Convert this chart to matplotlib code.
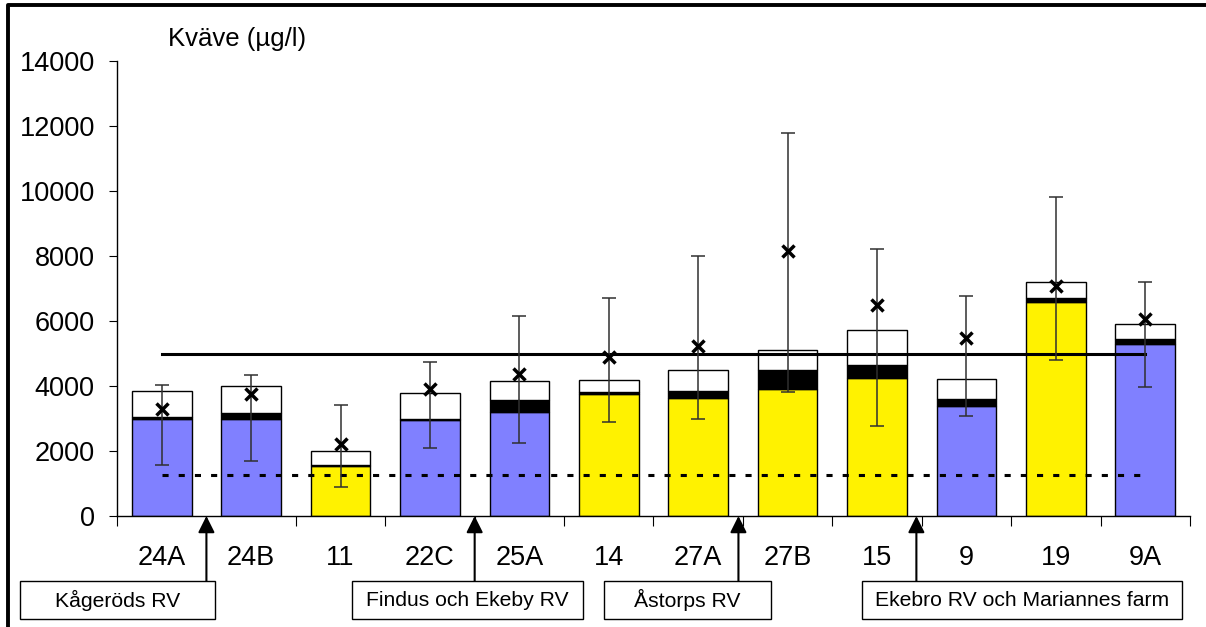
import numpy as np
import matplotlib.pyplot as plt
from matplotlib.patches import Rectangle
from matplotlib.lines import Line2D
import matplotlib.transforms as mtransforms

plt.rcParams['font.family'] = ['Liberation Sans', 'DejaVu Sans']

# data
stations = ['24A', '24B', '11', '22C', '25A', '14', '27A', '27B', '15', '9', '19', '9A']
kind = ['b', 'b', 'y', 'b', 'b', 'y', 'y', 'y', 'y', 'b', 'y', 'b']
low_part = [3000, 3000, 1540, 2940, 3200, 3760, 3630, 3900, 4240, 3395, 6595, 5285]
mid_top = [3050, 3180, 1580, 2985, 3555, 3830, 3840, 4500, 4645, 3585, 6700, 5450]
total = [3850, 4000, 2010, 3770, 4165, 4185, 4500, 5110, 5720, 4225, 7215, 5895]
mean = [3280, 3750, 2225, 3910, 4370, 4880, 5225, 8160, 6500, 5490, 7070, 6060]
err_hi = [4020, 4350, 3415, 4735, 6140, 6720, 8000, 11800, 8220, 6770, 9830, 7215]
err_lo = [1555, 1690, 885, 2095, 2255, 2895, 2980, 3830, 2775, 3070, 4790, 3955]
limit_solid = 5000
limit_dotted = 1250

boxes = ['Kågeröds RV', 'Findus och Ekeby RV', 'Åstorps RV', 'Ekebro RV och Mariannes farm']
arrow_at = [0.5, 3.5, 6.45, 8.44]

W, H = 1206, 627
fig = plt.figure(figsize=(W / 100, H / 100), dpi=100)

def fx(p):
    return p / W

def fy(p):
    return 1 - p / H

ax = fig.add_axes([fx(117), fy(516), fx(1190) - fx(117), fy(61) - fy(516)])

x = np.arange(len(stations))
low_part = np.array(low_part)
mid_top = np.array(mid_top)
total = np.array(total)
mean = np.array(mean)
colors = ['#8080FF' if k == 'b' else '#FFF200' for k in kind]
bw = 0.667

ax.bar(x, low_part, bw, color=colors, edgecolor='black', linewidth=1, zorder=2)
ax.bar(x, mid_top - low_part, bw, bottom=low_part, color='black', edgecolor='black', linewidth=1, zorder=2)
ax.bar(x, total - mid_top, bw, bottom=mid_top, color='white', edgecolor='black', linewidth=1, zorder=2)

ax.plot([x[0], x[-1]], [limit_solid] * 2, color='black', lw=2.2, zorder=3)
ax.plot([x[0], x[-1]], [limit_dotted] * 2, color='black', lw=2.2, ls=(0, (2, 3.3)), zorder=3)

yerr = [mean - np.array(err_lo), np.array(err_hi) - mean]
ax.errorbar(x, mean, yerr=yerr, fmt='none', ecolor='#303030', elinewidth=1.1, capsize=5, capthick=1.1, zorder=4)
ax.plot(x, mean, 'x', color='black', ms=8.5, mew=2.5, zorder=5)

ax.set_xlim(-0.5, len(stations) - 0.5)
ax.set_ylim(0, 14000)
ax.set_yticks(np.arange(0, 14001, 2000))
ax.tick_params(axis='y', labelsize=19.5, length=6, pad=10, direction='out')
ax.set_xticks(np.arange(-0.5, len(stations), 1))
ax.set_xticklabels([])
ax.set_xticks(x, minor=True)
ax.set_xticklabels(stations, minor=True, fontsize=19.5)
ax.tick_params(axis='x', which='major', length=7, direction='out')
ax.tick_params(axis='x', which='minor', length=0, pad=21)
for s in ['top', 'right']:
    ax.spines[s].set_visible(False)
for s in ['left', 'bottom']:
    ax.spines[s].set_linewidth(1)

fig.text(fx(168), fy(46), 'Kväve (µg/l)', fontsize=18.5, ha='left', va='baseline')

# boxes with arrows under the axis
box_px = [(20, 215), (352, 583), (604, 771), (862, 1182)]
trans = mtransforms.blended_transform_factory(ax.transData, fig.transFigure)
for label, (l, r), xa in zip(boxes, box_px, arrow_at):
    fig.patches.append(Rectangle((fx(l), fy(619)), fx(r) - fx(l), fy(581) - fy(619),
                                 transform=fig.transFigure, facecolor='white',
                                 edgecolor='black', lw=1))
    fig.text(fx((l + r) / 2), fy(600), label, fontsize=15.2, ha='center', va='center')
    ax.annotate('', xy=(xa, 0), xycoords='data', xytext=(xa, fy(581)), textcoords=trans,
                arrowprops=dict(arrowstyle='-|>,head_length=0.5,head_width=0.25',
                                color='black', lw=1.5, mutation_scale=20,
                                shrinkA=0, shrinkB=0),
                annotation_clip=False)

# outer frame (top and left visible)
fig.lines.append(Line2D([fx(8), fx(8), 1], [0, fy(5), fy(5)], transform=fig.transFigure,
                        color='black', lw=2.8))

fig.savefig('out.png', dpi=100)
